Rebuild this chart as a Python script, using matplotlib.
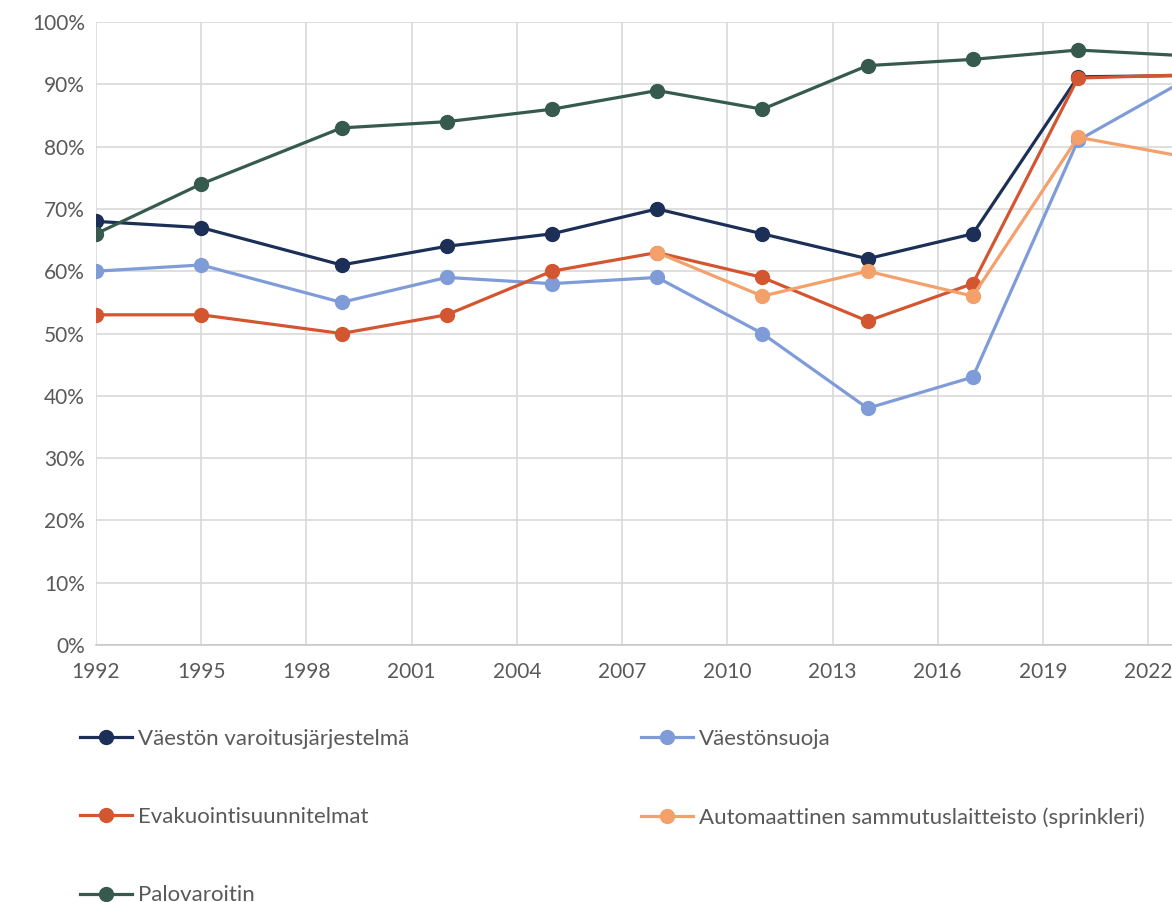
import numpy as np
import matplotlib.pyplot as plt
from matplotlib.ticker import PercentFormatter

plt.rcParams['font.family'] = ['Lato', 'DejaVu Sans']

# survey years (last point lies just beyond the right edge)
years = [1992, 1995, 1999, 2002, 2005, 2008, 2011, 2014, 2017, 2020, 2023]

varoitus = [68, 67, 61, 64, 66, 70, 66, 62, 66, 91.2, 91.4]
suoja = [60, 61, 55, 59, 58, 59, 50, 38, 43, 81, 90.5]
evakuointi = [53, 53, 50, 53, 60, 63, 59, 52, 58, 91, 91.5]
sprinkleri = [np.nan, np.nan, np.nan, np.nan, np.nan, 63, 56, 60, 56, 81.5, 78.4]
palovaroitin = [66, 74, 83, 84, 86, 89, 86, 93, 94, 95.5, 94.6]

names = ['Väestön varoitusjärjestelmä', 'Väestönsuoja', 'Evakuointisuunnitelmat',
         'Automaattinen sammutuslaitteisto (sprinkleri)', 'Palovaroitin']
series = [varoitus, suoja, evakuointi, sprinkleri, palovaroitin]
colors = ['#1c2f57', '#7f9cd9', '#d35630', '#f4a06b', '#365a4e']

xticks = list(range(1992, 2023, 3))

fig = plt.figure(figsize=(11.72, 9.02), dpi=100)
ax = fig.add_axes([96/1172, 1 - 645/902, 1 - 96/1172, (645 - 22)/902])

lines = []
for name, vals, c in zip(names, series, colors):
    ln, = ax.plot(years, vals, color=c, lw=2.3, marker='o', ms=10, label=name)
    lines.append(ln)

ax.set_xlim(1992, 2022.68)
ax.set_ylim(0, 100)
ax.set_xticks(xticks)
ax.set_yticks(range(0, 101, 10))
ax.yaxis.set_major_formatter(PercentFormatter(decimals=0))
ax.grid(True, color='#d9d9d9', lw=1.2)
ax.set_axisbelow(True)
for s in ['top', 'right', 'left']:
    ax.spines[s].set_visible(False)
ax.spines['bottom'].set_color('#c8c8c8')
ax.spines['bottom'].set_linewidth(1.2)
ax.tick_params(length=0, labelsize=15, colors='#595959')
ax.tick_params(axis='x', pad=12)
ax.tick_params(axis='y', pad=8)

order = [0, 2, 4, 1, 3]
fig.legend([lines[i] for i in order], [names[i] for i in order],
           ncol=2, loc='upper left',
           bbox_to_anchor=(80/1172, 1 - 729/902),
           frameon=False, fontsize=16, labelcolor='#595959',
           handlelength=2.35, handletextpad=0.28, labelspacing=2.62,
           columnspacing=10.4,
           borderpad=0, borderaxespad=0, numpoints=1)

fig.savefig('out.png', dpi=100)
